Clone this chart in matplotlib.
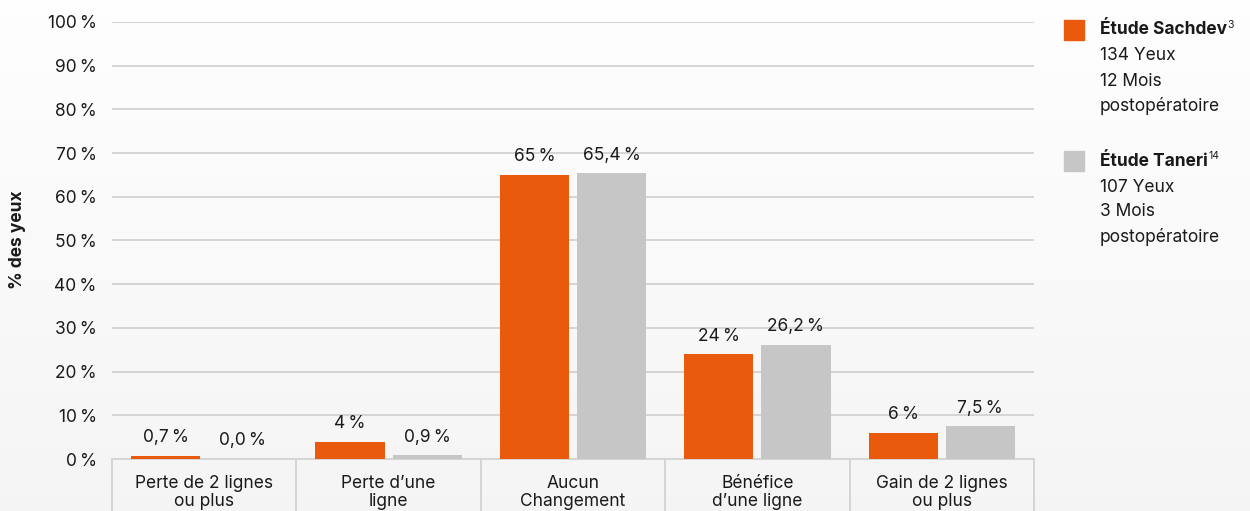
import numpy as np
import matplotlib.pyplot as plt
from matplotlib.transforms import blended_transform_factory

plt.rcParams['font.family'] = ['Inter', 'DejaVu Sans']

categories = ['Perte de 2 lignes\nou plus', 'Perte d\u2019une\nligne', 'Aucun\nChangement',
              'Bénéfice\nd\u2019une ligne', 'Gain de 2 lignes\nou plus']
sachdev = [0.7, 4, 65, 24, 6]
taneri = [0.0, 0.9, 65.4, 26.2, 7.5]
yticks = [0, 10, 20, 30, 40, 50, 60, 70, 80, 90, 100]

orange = '#E95A0C'
grey = '#C5C6C5'
gridc = '#D5D5D5'
ink = '#1a1a1a'


def pct_int(v):
    return f'{v:g}'.replace('.', ',') + '\u2009%'


def pct_one(v):
    return f'{v:.1f}'.replace('.', ',') + '\u2009%'


fig = plt.figure(figsize=(12.5, 5.11), dpi=100)

# soft vertical background wash
bg = fig.add_axes([0, 0, 1, 1], zorder=-10)
grad = np.linspace(0.997, 0.96, 256).reshape(-1, 1)
bg.imshow(np.dstack([grad, grad, grad]), aspect='auto', extent=[0, 1, 0, 1])
bg.axis('off')

ax = fig.add_axes([112 / 1250, 1 - 459 / 511, (1034 - 112) / 1250, (459 - 22) / 511])
ax.patch.set_alpha(0)

x = np.arange(len(categories))
w = 0.375
off = 0.209
b1 = ax.bar(x - off, sachdev, w, color=orange, zorder=3)
b2 = ax.bar(x + off, taneri, w, color=grey, zorder=3)

for bars, vals, fmt in [(b1, sachdev, pct_int), (b2, taneri, pct_one)]:
    for r, v in zip(bars, vals):
        ax.annotate(fmt(v), (r.get_x() + r.get_width() / 2, v), xytext=(0, 13),
                    textcoords='offset points', ha='center', va='center',
                    fontsize=12.5, color=ink, zorder=4)

ax.set_xlim(-0.5, len(categories) - 0.5)
ax.set_ylim(0, 100)
ax.set_yticks(yticks)
ax.set_yticklabels([f'{t}\u2009%' for t in yticks], fontsize=12.5, color=ink)
ax.yaxis.grid(True, color=gridc, linewidth=1.4, zorder=0)
ax.tick_params(axis='y', length=0, pad=11)
ax.tick_params(axis='x', length=0)
ax.set_xticks([])
for s in ax.spines.values():
    s.set_visible(False)

# category boxes under the axis
trans = blended_transform_factory(ax.transData, ax.transAxes)
ax.plot([-0.5, len(categories) - 0.5], [0, 0], color=gridc, lw=1.4, transform=trans,
        clip_on=False, zorder=2)
for b in np.arange(-0.5, len(categories), 1.0):
    ax.plot([b, b], [0, -0.2], color=gridc, lw=1.4, transform=trans, clip_on=False)
for xi, lab in zip(x, categories):
    ax.text(xi, -0.037, lab, transform=trans, ha='center', va='top', fontsize=12.5,
            linespacing=1.05, color=ink)

fig.text(18 / 1250, 1 - 240 / 511, '% des yeux', rotation=90, ha='center', va='center',
         fontsize=12.5, fontweight='bold', color=ink)

# legend
entries = [(orange, 'Étude Sachdev', '3', ['134 Yeux', '12 Mois', 'postopératoire'], 30),
           (grey, 'Étude Taneri', '14', ['107 Yeux', '3 Mois', 'postopératoire'], 161)]
for col, title, sup, lines, ytop in entries:
    fig.patches.append(plt.Rectangle((1064 / 1250, 1 - (ytop + 10) / 511), 20 / 1250, 20 / 511,
                                     transform=fig.transFigure, color=col))
    t = fig.text(1100 / 1250, 1 - ytop / 511, title, ha='left', va='center', fontsize=12.5,
                 fontweight='bold', color=ink)
    plt.annotate(sup, xy=(1, 0.8), xycoords=t, xytext=(0.5, 0), textcoords='offset points',
                 ha='left', va='center', fontsize=7.5, color=ink)
    for i, ln in enumerate(lines):
        fig.text(1100 / 1250, 1 - (ytop + 1 + 25 * (i + 1)) / 511, ln, ha='left', va='center',
                 fontsize=12.5, color=ink)

plt.savefig('out.png', dpi=100)
